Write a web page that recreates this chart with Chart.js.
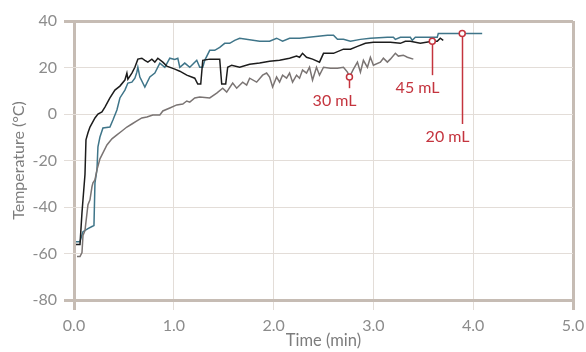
<!DOCTYPE html>
<html>
<head>
<meta charset="utf-8">
<script src="https://cdn.jsdelivr.net/npm/chart.js@4"></script>
<style>
  html, body { margin: 0; padding: 0; background: #ffffff; }
  #wrap { width: 586px; height: 352px; }
</style>
</head>
<body>
<div id="wrap"><canvas id="temp-chart" width="586" height="352"></canvas></div>
<script>
// time in minutes, temperature in °C
const blueTime = [0.02, 0.06, 0.09, 0.14, 0.18, 0.20, 0.21, 0.23, 0.24, 0.26, 0.29, 0.36, 0.39, 0.43, 0.46, 0.51, 0.54, 0.58, 0.61, 0.63, 0.64, 0.66, 0.71, 0.76, 0.81, 0.86, 0.91, 0.96, 1.01, 1.04, 1.06, 1.11, 1.16, 1.23, 1.26, 1.29, 1.31, 1.36, 1.41, 1.46, 1.51, 1.56, 1.61, 1.66, 1.86, 1.96, 2.03, 2.09, 2.16, 2.26, 2.54, 2.60, 2.64, 2.70, 2.77, 2.87, 2.97, 3.14, 3.20, 3.22, 3.27, 3.37, 3.39, 3.42, 3.64, 3.65, 3.89, 4.09];
const blueTemp = [-54.9, -54.9, -50.6, -49.3, -48.4, -48.0, -29.6, -24.0, -14.1, -9.9, -6.0, -5.6, -2.6, 1.7, 6.9, 10.3, 13.3, 13.7, 15.4, 18.0, 20.1, 15.9, 11.6, 15.9, 17.6, 21.9, 20.1, 24.0, 23.5, 24.0, 20.1, 21.9, 20.1, 23.1, 20.1, 20.1, 23.1, 27.4, 27.4, 28.7, 30.4, 30.4, 31.7, 32.6, 31.3, 31.3, 32.6, 31.3, 32.6, 32.6, 33.9, 33.9, 32.1, 32.1, 31.3, 32.1, 32.6, 33.0, 33.0, 32.1, 33.0, 33.0, 31.7, 33.0, 33.0, 34.6, 34.6, 34.6];

const blackTime = [0.02, 0.06, 0.08, 0.09, 0.11, 0.12, 0.14, 0.16, 0.21, 0.24, 0.28, 0.31, 0.36, 0.41, 0.46, 0.51, 0.53, 0.54, 0.58, 0.61, 0.64, 0.68, 0.71, 0.74, 0.78, 0.81, 0.84, 0.89, 0.93, 1.01, 1.06, 1.13, 1.21, 1.24, 1.27, 1.29, 1.36, 1.46, 1.48, 1.52, 1.54, 1.58, 1.66, 1.76, 1.86, 1.96, 2.06, 2.16, 2.23, 2.26, 2.29, 2.33, 2.39, 2.46, 2.50, 2.60, 2.70, 2.77, 2.84, 2.92, 3.00, 3.17, 3.27, 3.32, 3.37, 3.47, 3.59, 3.64, 3.67, 3.70];
const blackTemp = [-56.1, -56.1, -42.4, -36.9, -26.0, -11.1, -8.1, -5.6, -1.7, 0.0, 0.9, 3.0, 6.9, 10.3, 12.0, 14.6, 17.6, 15.0, 17.6, 20.1, 23.6, 24.0, 23.1, 22.3, 23.6, 22.3, 24.0, 22.3, 20.6, 19.3, 18.4, 16.7, 15.4, 12.9, 12.9, 23.1, 23.6, 23.6, 12.9, 12.9, 20.1, 21.0, 20.1, 21.4, 21.9, 22.7, 23.1, 24.0, 24.9, 24.4, 26.1, 24.4, 23.6, 22.3, 26.1, 26.1, 27.9, 27.9, 29.1, 30.4, 30.9, 30.9, 30.4, 31.3, 31.3, 30.4, 31.3, 31.3, 32.6, 31.7];

const grayTime = [0.03, 0.06, 0.08, 0.09, 0.11, 0.14, 0.16, 0.18, 0.19, 0.21, 0.23, 0.26, 0.29, 0.33, 0.38, 0.43, 0.48, 0.53, 0.58, 0.63, 0.68, 0.73, 0.79, 0.86, 0.89, 0.96, 1.03, 1.09, 1.13, 1.16, 1.21, 1.26, 1.36, 1.43, 1.49, 1.53, 1.59, 1.63, 1.69, 1.73, 1.76, 1.83, 1.89, 1.93, 1.96, 1.99, 2.03, 2.06, 2.09, 2.13, 2.16, 2.19, 2.23, 2.26, 2.29, 2.33, 2.36, 2.39, 2.43, 2.46, 2.50, 2.57, 2.64, 2.70, 2.74, 2.76, 2.80, 2.84, 2.87, 2.90, 2.94, 2.97, 3.00, 3.07, 3.10, 3.14, 3.17, 3.22, 3.25, 3.30, 3.34, 3.40];
const grayTemp = [-61.3, -61.3, -59.6, -52.3, -50.1, -39.0, -36.9, -31.3, -29.6, -28.3, -24.0, -19.3, -16.7, -13.3, -10.7, -9.0, -7.3, -5.6, -4.3, -3.0, -1.7, -1.3, -0.4, -0.4, 1.3, 2.6, 3.9, 4.3, 5.6, 5.1, 6.9, 7.3, 6.9, 9.0, 11.1, 9.4, 13.3, 11.1, 13.7, 12.4, 15.4, 13.7, 16.7, 17.6, 15.9, 11.6, 15.9, 13.7, 16.7, 15.4, 17.6, 13.7, 16.7, 15.4, 18.9, 17.6, 20.1, 14.6, 20.1, 16.7, 20.1, 19.7, 19.7, 20.1, 18.0, 15.9, 19.3, 22.3, 18.0, 23.1, 20.1, 24.4, 21.0, 22.3, 24.0, 22.3, 23.6, 26.1, 24.9, 25.3, 24.4, 23.6];

// volume markers
const markerLabels = ["30 mL", "45 mL", "20 mL"];
const markerTime = [2.76, 3.59, 3.89];
const markerTemp = [15.9, 31.3, 34.6];
const markerLineEnd = [11.1, 16.7, -4.3];

const xTicks = [0, 1, 2, 3, 4, 5];
const yTicks = [-80, -60, -40, -20, 0, 20, 40];

const FONT = "Lato";
const RED = "#c4343e";
const FRAME = "#c6bcb4";
const GRID = "#e3ddd8";

function toPoints(xs, ys) {
  return xs.map((x, i) => ({ x: x, y: ys[i] }));
}

// little plugin for the red leader lines and volume labels
const markerNotes = {
  id: "markerNotes",
  afterDatasetsDraw(chart) {
    const ctx = chart.ctx;
    const xs = chart.scales.x;
    const ys = chart.scales.y;
    ctx.save();
    ctx.strokeStyle = RED;
    ctx.lineWidth = 1.5;
    ctx.fillStyle = RED;
    ctx.font = "16px " + FONT;
    ctx.textAlign = "right";
    ctx.textBaseline = "middle";
    markerLabels.forEach((lbl, i) => {
      const px = Math.round(xs.getPixelForValue(markerTime[i])) + 0.5;
      const py = ys.getPixelForValue(markerTemp[i]) + 3;
      const pe = ys.getPixelForValue(markerLineEnd[i]);
      ctx.beginPath();
      ctx.moveTo(px, py);
      ctx.lineTo(px, pe);
      ctx.stroke();
      ctx.fillText(lbl, px + 7, pe + 13);
    });
    ctx.restore();
  }
};

const isEdge = (c, lo, hi) => c.tick && (c.tick.value === lo || c.tick.value === hi);

new Chart(document.getElementById("temp-chart"), {
  type: "line",
  data: {
    datasets: [
      {
        label: "markers",
        type: "scatter",
        data: toPoints(markerTime, markerTemp),
        pointRadius: 3,
        pointBackgroundColor: "#ffffff",
        pointBorderColor: RED,
        pointBorderWidth: 1.5,
        order: 0
      },
      {
        label: "20 mL",
        data: toPoints(blueTime, blueTemp),
        borderColor: "#3f7589",
        borderWidth: 1.5,
        pointRadius: 0,
        tension: 0,
        order: 3
      },
      {
        label: "45 mL",
        data: toPoints(blackTime, blackTemp),
        borderColor: "#1c1c1c",
        borderWidth: 1.5,
        pointRadius: 0,
        tension: 0,
        order: 2
      },
      {
        label: "30 mL",
        data: toPoints(grayTime, grayTemp),
        borderColor: "#7a7473",
        borderWidth: 1.5,
        pointRadius: 0,
        tension: 0,
        order: 1
      }
    ]
  },
  options: {
    responsive: false,
    animation: false,
    layout: { padding: { top: 21, right: 13, left: 0, bottom: 0 } },
    plugins: {
      legend: { display: false },
      tooltip: { enabled: false }
    },
    scales: {
      x: {
        type: "linear",
        min: 0,
        max: 5,
        afterBuildTicks: s => { s.ticks = xTicks.map(v => ({ value: v })); },
        afterFit: s => { s.height = 52; s.paddingRight = 0; s.paddingLeft = 0; },
        ticks: {
          color: "#8c8c8c",
          padding: 6,
          font: { family: FONT, size: 16 },
          callback: v => v.toFixed(1)
        },
        grid: {
          color: c => isEdge(c, 0, 5) ? FRAME : GRID,
          lineWidth: c => isEdge(c, 0, 5) ? 3 : 1,
          tickLength: 10
        },
        border: { display: false },
        title: {
          display: true,
          text: "Time (min)",
          color: "#7d7d7d",
          padding: { top: 0, bottom: 1 },
          font: { family: FONT, size: 16.5 }
        }
      },
      y: {
        min: -80,
        max: 40,
        afterBuildTicks: s => { s.ticks = yTicks.map(v => ({ value: v })); },
        afterFit: s => { s.width = 74; s.paddingTop = 0; s.paddingBottom = 0; },
        ticks: {
          color: "#8c8c8c",
          padding: 7,
          font: { family: FONT, size: 16 }
        },
        grid: {
          color: c => isEdge(c, -80, 40) ? FRAME : GRID,
          lineWidth: c => isEdge(c, -80, 40) ? 3 : 1,
          tickLength: 10
        },
        border: { display: false },
        title: {
          display: true,
          text: "Temperature (°C)",
          color: "#7d7d7d",
          padding: { top: 9, bottom: 0 },
          font: { family: FONT, size: 16 }
        }
      }
    }
  },
  plugins: [markerNotes]
});
</script>
</body>
</html>
